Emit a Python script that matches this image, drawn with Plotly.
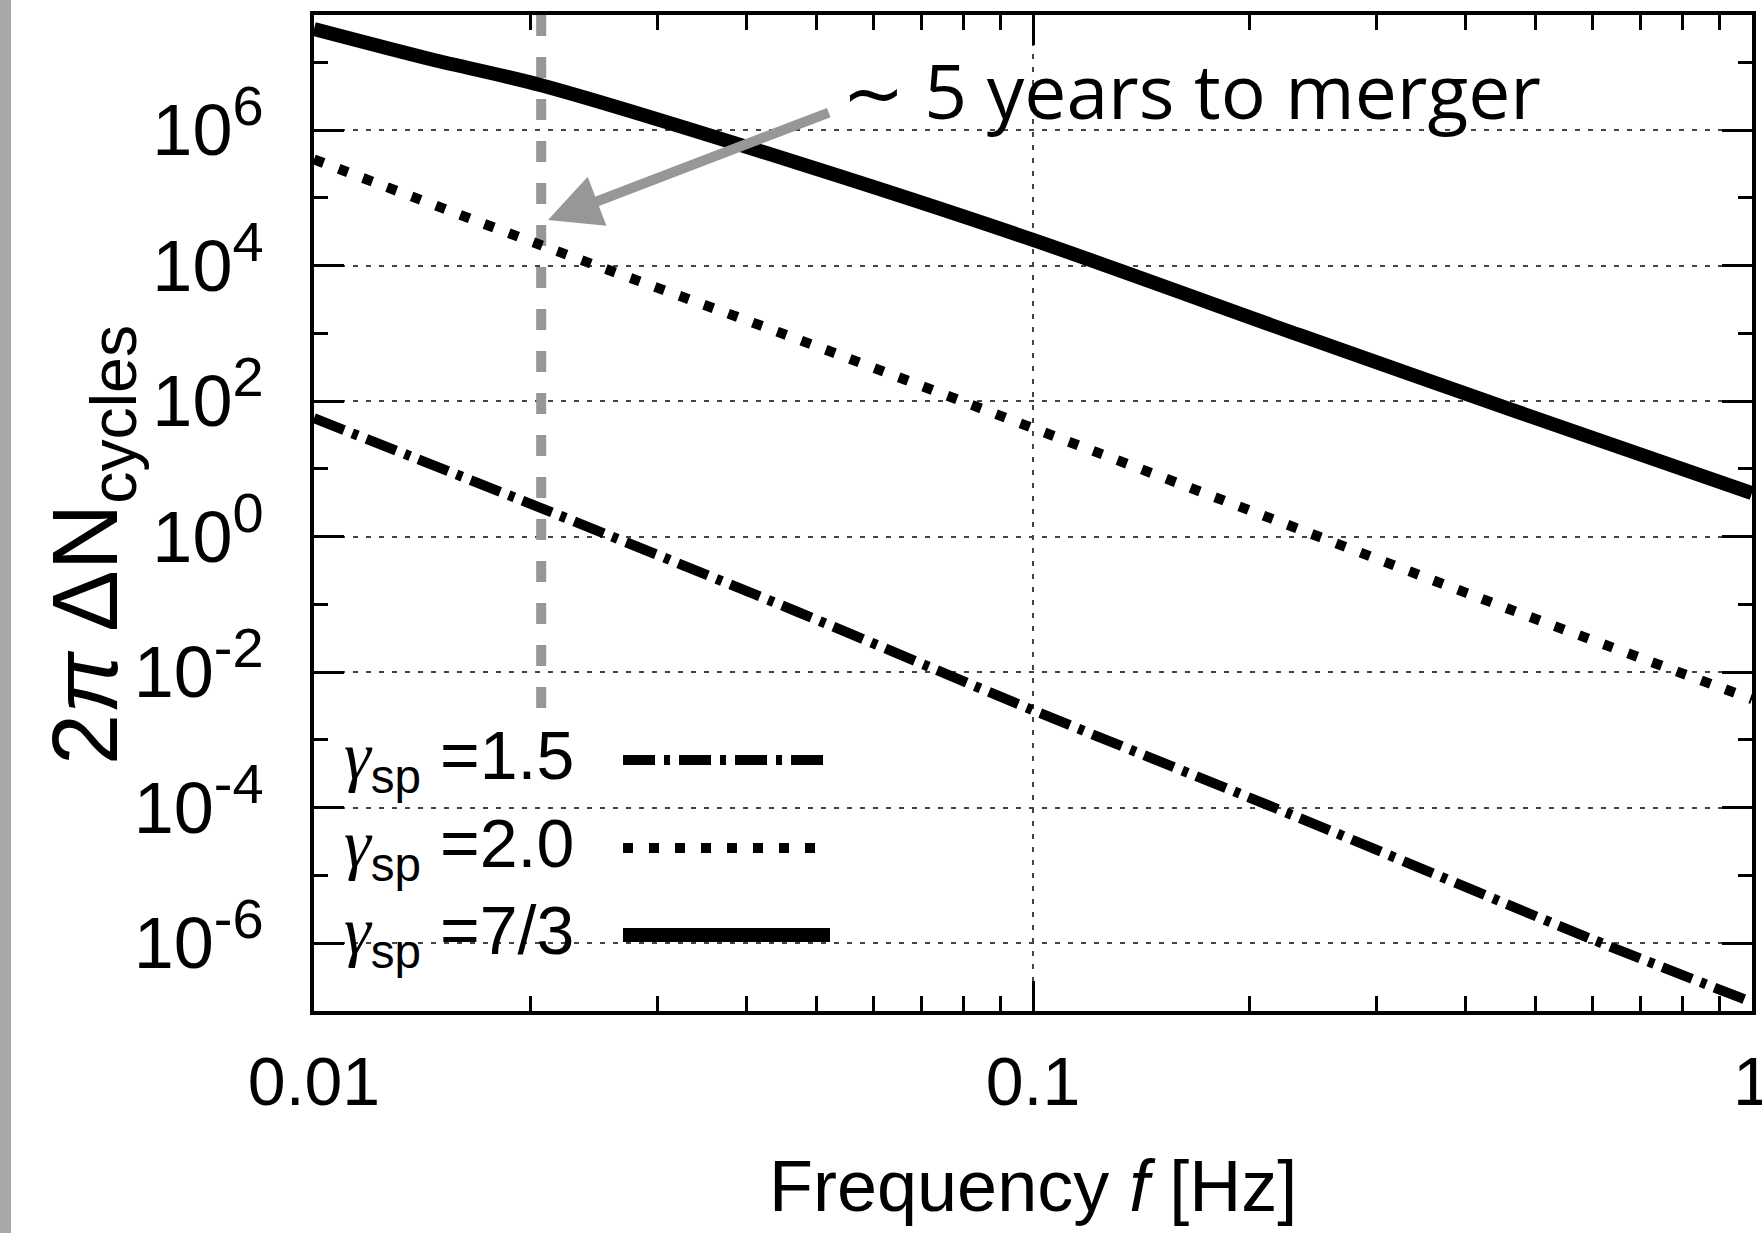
import plotly.graph_objects as go

# ---------------- data ----------------
# gamma_sp = 7/3 (solid)
f_73 = [0.01, 0.0144, 0.0207, 0.047, 0.1, 0.235, 0.456, 1.0]
n_73 = [3.1e7, 1.14e7, 4.6e6, 3.3e5, 2.4e4, 9.4e2, 79, 4.4]
# gamma_sp = 2.0 (dotted)
f_20 = [0.01, 0.0207, 0.045, 0.1, 0.223, 0.456, 1.0]
n_20 = [3.7e5, 2.0e4, 9.8e2, 40, 1.58, 0.088, 0.004]
# gamma_sp = 1.5 (dash-dot)
f_15 = [0.01, 0.0207, 0.047, 0.1, 0.233, 0.596, 1.0]
n_15 = [56, 2.64, 0.078, 0.00275, 7.3e-5, 1.17e-6, 1.35e-7]

# ~5 years to merger marker
f_merger = 0.0207
merger_y = [5e7, 2.6e-3]

GAMMA = "<span style=\"font-family:'Liberation Serif'\"><i>γ</i></span>"
legend_values = ["=1.5", "=2.0", "=7/3"]
legend_labels = [GAMMA + "<sub>sp</sub> " + v for v in legend_values]
x_tickvals = [0.01, 0.1, 1]
x_ticktext = ["0.01", "0.1", "1"]
x_minor = [0.02, 0.03, 0.04, 0.05, 0.06, 0.07, 0.08, 0.09,
           0.2, 0.3, 0.4, 0.5, 0.6, 0.7, 0.8, 0.9]
y_tickvals = [1e-6, 1e-4, 1e-2, 1, 1e2, 1e4, 1e6]
y_exponents = ["-6", "-4", "-2", "0", "2", "4", "6"]
y_ticktext = ["10<sup><span style=\"font-size:56px\">%s</span></sup>" % e for e in y_exponents]
y_minor = [1e-5, 1e-3, 1e-1, 1e1, 1e3, 1e5, 1e7]

# ---------------- layout geometry ----------------
W, H = 1762, 1233
L, R, T, B = 314, 10, 15, 222
PW, PH = W - L - R, H - T - B


def px(x):
    return (x - L) / PW


def py(y):
    return (H - B - y) / PH


FONT = "Liberation Sans, Arial, Helvetica, sans-serif"
GRAY = "#979797"

styles = [
    dict(color="black", width=10, dash="32px,9px,6px,9px"),
    dict(color="black", width=10, dash="10px,16px"),
    dict(color="black", width=14),
]

fig = go.Figure()
fig.add_trace(go.Scatter(x=[f_merger, f_merger], y=merger_y, mode="lines",
                         line=dict(color=GRAY, width=10, dash="21px,21px"),
                         hoverinfo="skip", showlegend=False))
for fx, ny, st, name in [(f_15, n_15, styles[0], legend_labels[0]),
                         (f_20, n_20, styles[1], legend_labels[1]),
                         (f_73, n_73, styles[2], legend_labels[2])]:
    fig.add_trace(go.Scatter(x=fx, y=ny, mode="lines",
                             line=dict(shape="spline", smoothing=0.8, **st),
                             name=name, showlegend=False))

axis_common = dict(
    ticks="inside", tickwidth=3, tickcolor="black",
    showline=True, linewidth=4, linecolor="black", mirror="allticks",
    showgrid=True, gridcolor="#444444", gridwidth=1.5, griddash="5px,8px",
    zeroline=False, ticklabeloverflow="allow", automargin=False,
)

fig.update_xaxes(type="log", range=[-2, 0], tickmode="array",
                 tickvals=x_tickvals, ticktext=x_ticktext, ticklen=30,
                 tickfont=dict(size=68, family=FONT, color="black"),
                 ticklabelstandoff=8,
                 minor=dict(tickmode="array", tickvals=x_minor, ticks="inside",
                            ticklen=15, tickwidth=3, tickcolor="black", showgrid=False),
                 **axis_common)
fig.update_yaxes(type="log", range=[-7, 7.699], tickmode="array",
                 tickvals=y_tickvals, ticktext=y_ticktext, ticklen=30,
                 tickfont=dict(size=72, family=FONT, color="black"),
                 ticklabelstandoff=32,
                 minor=dict(tickmode="array", tickvals=y_minor, ticks="inside",
                            ticklen=14, tickwidth=3, tickcolor="black", showgrid=False),
                 **axis_common)

shapes = [
    # gray strip at the left edge of the image
    dict(type="rect", xref="paper", yref="paper", x0=px(0), x1=px(11), y0=py(H), y1=py(0),
         fillcolor="#a6a9a8", line=dict(width=0), layer="above"),
    # opaque key box
    dict(type="rect", xref="paper", yref="paper", x0=0, x1=px(874), y0=0, y1=py(712),
         fillcolor="white", line=dict(width=0), layer="between"),
]
annotations = []
rows = [760, 848, 935]
for i, (lab, st) in enumerate(zip(legend_labels, styles)):
    shapes.append(dict(type="line", xref="paper", yref="paper",
                       x0=px(623), x1=px(830), y0=py(rows[i]), y1=py(rows[i]),
                       line=st, layer="above"))
    annotations.append(dict(xref="paper", yref="paper", x=px(576), y=py(rows[i]),
                            xanchor="right", yanchor="middle", showarrow=False,
                            text=lab, font=dict(size=68, family=FONT, color="black")))

# axis titles
annotations.append(dict(xref="paper", yref="paper", x=0.5, y=py(1186),
                        xanchor="center", yanchor="middle", showarrow=False,
                        text="Frequency <i>f</i> [Hz]",
                        font=dict(size=72, family=FONT, color="black")))
annotations.append(dict(xref="paper", yref="paper", x=px(92), y=py(545),
                        xanchor="center", yanchor="middle", showarrow=False,
                        textangle=-90,
                        text="2<i>π</i> ΔN<sub>cycles</sub>",
                        font=dict(size=92, family=FONT, color="black")))
# merger annotation text and arrow
annotations.append(dict(xref="paper", yref="paper", x=px(840), y=py(90),
                        xanchor="left", yanchor="middle", showarrow=False,
                        text="∼ 5 years to merger",
                        font=dict(size=75, family="Open Sans, DejaVu Sans, sans-serif", color="black")))
annotations.append(dict(xref="x", yref="y", x=-1.6745, y=4.672,
                        axref="x", ayref="y", ax=-1.282, ay=6.266,
                        text="", showarrow=True, arrowhead=2, arrowsize=1.05,
                        arrowwidth=10, arrowcolor=GRAY))

fig.update_layout(width=W, height=H, margin=dict(l=L, r=R, t=T, b=B, autoexpand=False),
                  paper_bgcolor="white", plot_bgcolor="white", showlegend=False,
                  font=dict(family=FONT, color="black"),
                  shapes=shapes, annotations=annotations)

fig.write_html("out.html")
